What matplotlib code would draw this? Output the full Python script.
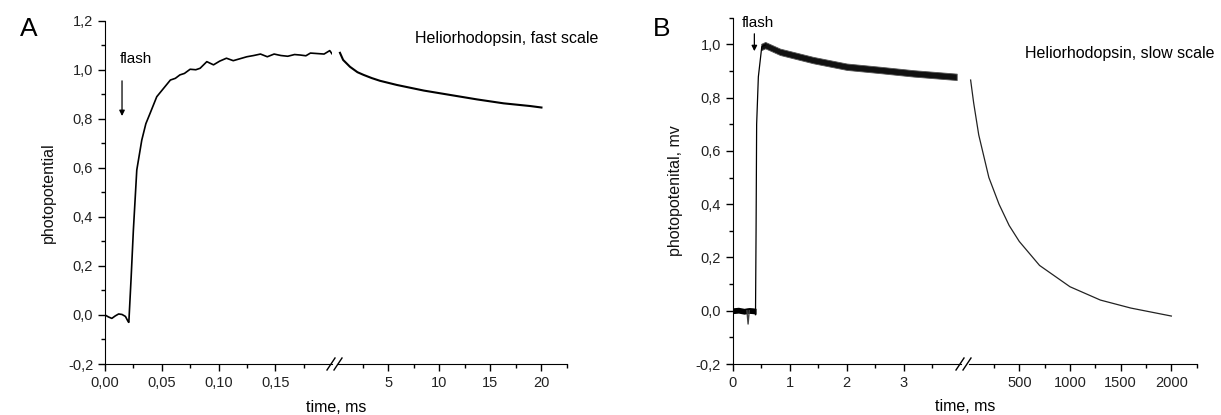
import matplotlib.pyplot as plt
from matplotlib.lines import Line2D
from matplotlib.ticker import MultipleLocator, FormatStrFormatter
import numpy as np

plt.rcParams['font.family'] = ['Liberation Sans', 'DejaVu Sans']

# ---- panel A : fast scale ----
fast_t = [0.000, 0.003, 0.006, 0.009, 0.012, 0.015, 0.018, 0.0205, 0.021, 0.023,
          0.025, 0.028, 0.0324, 0.036, 0.0397, 0.0456, 0.050, 0.0576, 0.062, 0.066,
          0.070, 0.075, 0.080, 0.0838, 0.0897, 0.0956, 0.101, 0.107, 0.113, 0.119,
          0.125, 0.131, 0.137, 0.143, 0.149, 0.155, 0.161, 0.167, 0.172, 0.177,
          0.181, 0.187, 0.193, 0.198, 0.200]
fast_v = [0.0, -0.008, -0.014, -0.004, 0.004, 0.002, -0.006, -0.028, -0.03, 0.15,
          0.346, 0.591, 0.713, 0.78, 0.822, 0.890, 0.915, 0.958, 0.965, 0.979,
          0.985, 1.002, 1.0, 1.006, 1.033, 1.02, 1.035, 1.047, 1.037, 1.045,
          1.053, 1.058, 1.064, 1.053, 1.064, 1.058, 1.055, 1.062, 1.06, 1.057,
          1.068, 1.066, 1.064, 1.078, 1.065]
decay_t = [0.29, 0.6, 1.27, 2.0, 2.6, 3.4, 4.2, 5.85, 7.0, 8.5, 11.1, 13.7, 16.3, 18.9, 20.0]
decay_v = [1.069, 1.04, 1.012, 0.99, 0.979, 0.966, 0.955, 0.938, 0.928, 0.915,
           0.897, 0.879, 0.863, 0.852, 0.846]

# ---- panel B : slow scale ----
base_t = [0.0, 0.1, 0.2, 0.25, 0.29, 0.35, 0.41]
base_v = [0.0, 0.002, -0.002, 0.0, 0.001, 0.0, -0.002]
spike_t = [0.25, 0.27, 0.29]
spike_v = [0.0, -0.05, 0.0]
rise_t = [0.40, 0.41, 0.42, 0.45, 0.51, 0.57]
rise_v = [-0.015, 0.3, 0.70, 0.878, 0.991, 0.997]
band_t = [0.5, 0.57, 0.83, 1.41, 2.0, 2.58, 3.17, 3.93]
band_v = [0.99, 0.997, 0.972, 0.941, 0.916, 0.904, 0.891, 0.878]
recov_t = [20, 50, 100, 200, 300, 400, 500, 700, 1000, 1300, 1600, 2000]
recov_v = [0.866, 0.78, 0.66, 0.50, 0.40, 0.32, 0.26, 0.17, 0.09, 0.04, 0.01, -0.02]

W, H = 1221, 415
fig = plt.figure(figsize=(W / 100, H / 100), dpi=100)


def px_axes(x0, x1, y0, y1):
    return fig.add_axes([x0 / W, 1 - y1 / H, (x1 - x0) / W, (y1 - y0) / H])


def style(ax, left=True):
    ax.spines['top'].set_visible(False)
    ax.spines['right'].set_visible(False)
    if not left:
        ax.spines['left'].set_visible(False)
        ax.tick_params(axis='y', which='both', left=False, labelleft=False)
    ax.tick_params(which='major', direction='out', length=5, width=1, labelsize=10.5,
                   labelcolor='#222222')
    ax.tick_params(which='minor', direction='out', length=3, width=1)
    ax.patch.set_alpha(0)


def brk(x, y=364):
    for dx in (0, 7):
        fig.add_artist(Line2D([(x + dx - 4) / W, (x + dx + 4) / W],
                              [1 - (y + 6) / H, 1 - (y - 6) / H], color='k', lw=1))


# panel A
a1 = px_axes(105, 332, 20.7, 364)
a2 = px_axes(337, 567, 20.7, 364)
for ax in (a1, a2):
    ax.set_ylim(-0.2, 1.2)
a1.set_xlim(0, 0.2)
a2.set_xlim(0, 22.5)
style(a1)
style(a2, left=False)
a1.plot(fast_t, fast_v, color='k', lw=1.2)
a2.plot(decay_t, decay_v, color='k', lw=1.5)
a1.set_xticks([0, 0.05, 0.10, 0.15])
a1.set_xticks([0.025, 0.075, 0.125, 0.175], minor=True)
a1.set_xticklabels(['0,00', '0,05', '0,10', '0,15'])
a1.set_yticks([-0.2, 0, 0.2, 0.4, 0.6, 0.8, 1.0, 1.2])
a1.yaxis.set_minor_locator(MultipleLocator(0.1))
a1.set_yticklabels(['-0,2', '0,0', '0,2', '0,4', '0,6', '0,8', '1,0', '1,2'])
a2.set_xticks([5, 10, 15, 20])
a2.set_xticks([2.5, 7.5, 12.5, 17.5, 22.5], minor=True)
a1.set_ylabel('photopotential', fontsize=11.5, labelpad=9, color='#111111')
fig.text(336 / W, 1 - 407 / H, 'time, ms', ha='center', va='center', fontsize=11.5)
a1.annotate('', xy=(0.015, 0.80), xytext=(0.015, 0.966),
            arrowprops=dict(arrowstyle='-|>', color='k', lw=0.9, mutation_scale=8))
a1.text(0.0132, 1.044, 'flash', fontsize=11, va='center')
a2.text(7.65, 1.129, 'Heliorhodopsin, fast scale', fontsize=11.5, va='center')
fig.text(20 / W, 1 - 29 / H, 'A', fontsize=19, va='center')
brk(331)

# panel B
b1 = px_axes(732.7, 960.7, 17.7, 364)
b2 = px_axes(968.6, 1196.7, 17.7, 364)
for ax in (b1, b2):
    ax.set_ylim(-0.2, 1.1)
b1.set_xlim(0, 4)
b2.set_xlim(0, 2250)
style(b1)
style(b2, left=False)
b1.fill_between(base_t, np.array(base_v) - 0.011, np.array(base_v) + 0.011, color='k', lw=0)
b1.plot(spike_t, spike_v, color='#444444', lw=1)
b1.plot(rise_t, rise_v, color='k', lw=0.9)
b1.fill_between(band_t, np.array(band_v) - 0.012, np.array(band_v) + 0.012,
                color='#111111', lw=0.6, edgecolor='#555555')
b2.plot(recov_t, recov_v, color='#222222', lw=0.9)
b1.set_xticks([0, 1, 2, 3])
b1.set_xticks([0.5, 1.5, 2.5, 3.5], minor=True)
b1.yaxis.set_minor_locator(MultipleLocator(0.1))
b1.set_yticks([-0.2, 0, 0.2, 0.4, 0.6, 0.8, 1.0])
b1.set_yticklabels(['-0,2', '0,0', '0,2', '0,4', '0,6', '0,8', '1,0'])
b2.set_xticks([500, 1000, 1500, 2000])
b2.set_xticks([250, 750, 1250, 1750, 2250], minor=True)
b1.set_ylabel('photopotenital, mv', fontsize=11.5, labelpad=9, color='#111111')
fig.text(965 / W, 1 - 406 / H, 'time, ms', ha='center', va='center', fontsize=11.5)
b1.annotate('', xy=(0.38, 0.964), xytext=(0.38, 1.05),
            arrowprops=dict(arrowstyle='-|>', color='k', lw=0.9, mutation_scale=8))
b1.text(0.15, 1.08, 'flash', fontsize=11, va='center')
b2.text(556, 0.964, 'Heliorhodopsin, slow scale', fontsize=11.5, va='center')
fig.text(653 / W, 1 - 29 / H, 'B', fontsize=19, va='center')
brk(960)

fig.savefig('out.png', dpi=100)
